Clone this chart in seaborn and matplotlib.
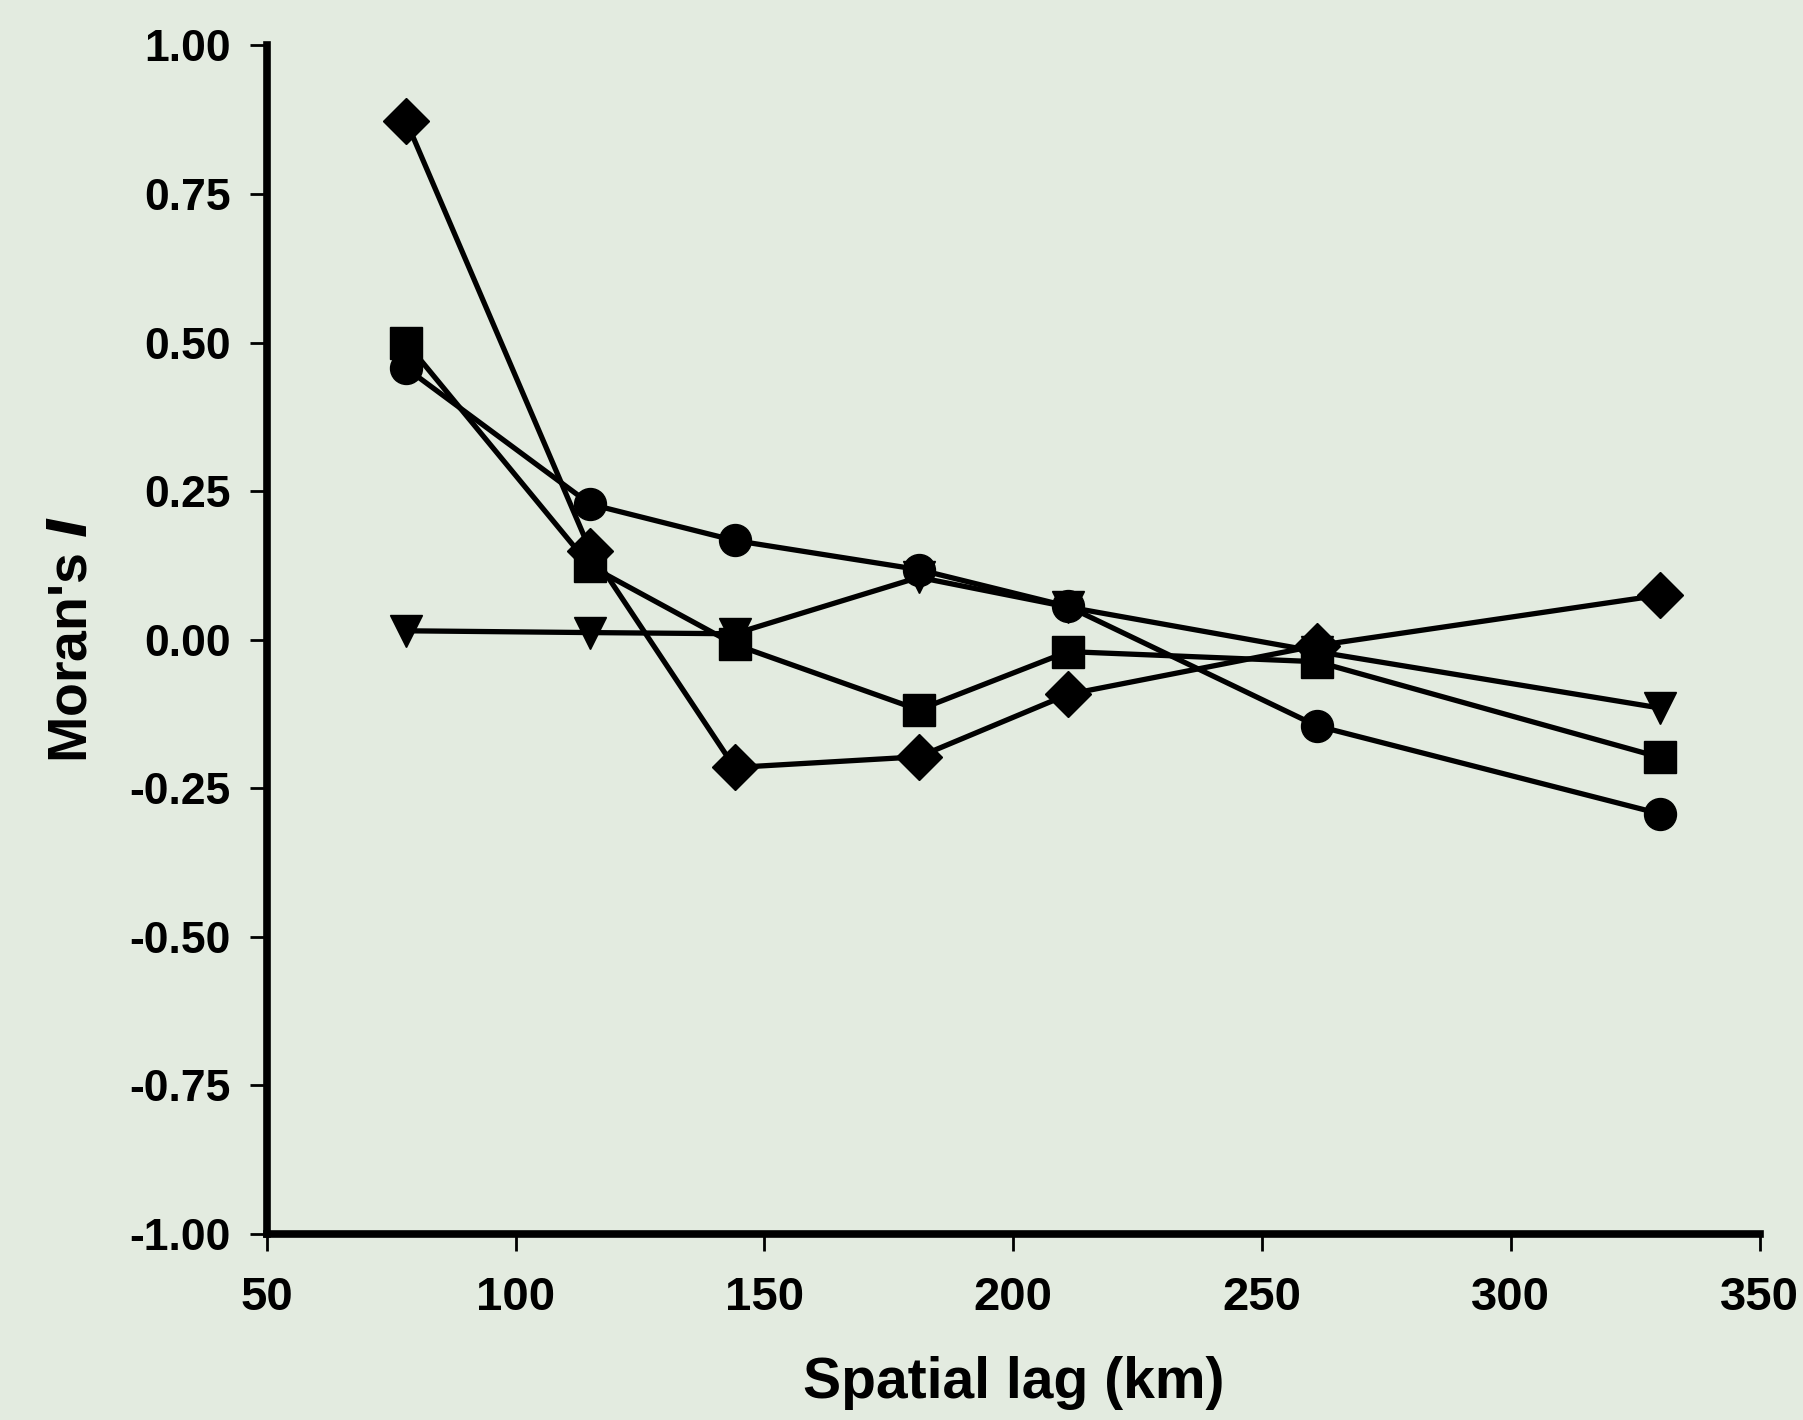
import numpy as np
import pandas as pd
import matplotlib
matplotlib.use("Agg")
import matplotlib.pyplot as plt
import seaborn as sns

# spatial lag classes (km)
lag_km = [78, 115, 144, 181, 211, 261, 330]

# Moran's I per series
diamond  = [0.873, 0.150, -0.215, -0.197, -0.092, -0.010, 0.075]
square   = [0.500, 0.124, -0.008, -0.118, -0.020, -0.037, -0.198]
circle   = [0.457, 0.228, 0.167, 0.118, 0.056, -0.145, -0.293]
triangle = [0.015, 0.012, 0.010, 0.105, 0.055, -0.020, -0.115]

y_ticks = [-1.00, -0.75, -0.50, -0.25, 0.00, 0.25, 0.50, 0.75, 1.00]
x_ticks = [50, 100, 150, 200, 250, 300, 350]

BG = "#e3ebe0"

sns.set_style("ticks")
plt.rcParams["font.family"] = ["Liberation Sans", "DejaVu Sans"]
plt.rcParams["font.weight"] = "bold"
plt.rcParams["text.color"] = "black"
plt.rcParams["axes.labelcolor"] = "black"
plt.rcParams["xtick.color"] = "black"
plt.rcParams["ytick.color"] = "black"

df = pd.concat([
    pd.DataFrame({"lag": lag_km, "I": diamond,  "series": "diamond"}),
    pd.DataFrame({"lag": lag_km, "I": square,   "series": "square"}),
    pd.DataFrame({"lag": lag_km, "I": circle,   "series": "circle"}),
    pd.DataFrame({"lag": lag_km, "I": triangle, "series": "triangle"}),
], ignore_index=True)

fig = plt.figure(figsize=(18.03, 14.2), dpi=100, facecolor=BG)
ax = fig.add_axes([0.148, 0.131, 0.828, 0.837])
ax.set_facecolor(BG)

sns.lineplot(
    data=df, x="lag", y="I", style="series",
    markers={"diamond": "D", "square": "s", "circle": "o", "triangle": "v"},
    dashes=False, color="black", linewidth=3.8, markersize=23,
    markeredgecolor="black", markeredgewidth=1, errorbar=None,
    legend=False, ax=ax,
)

ax.set_xlim(50, 350)
ax.set_ylim(-1.0, 1.0)
ax.set_xticks(x_ticks)
ax.set_yticks(y_ticks)
ax.set_yticklabels([f"{v:.2f}" for v in y_ticks])

for side in ["top", "right"]:
    ax.spines[side].set_visible(False)
for side in ["left", "bottom"]:
    ax.spines[side].set_linewidth(5.5)
    ax.spines[side].set_color("black")

ax.tick_params(axis="y", direction="out", length=12, width=2, pad=14, labelsize=32)
ax.tick_params(axis="x", direction="out", length=12, width=2, pad=18, labelsize=34)
for lab in ax.get_xticklabels() + ax.get_yticklabels():
    lab.set_fontweight("bold")

ax.set_xlabel("Spatial lag (km)", fontsize=41, fontweight="bold", labelpad=26)
ax.set_ylabel("Moran's $\\mathbfit{I}$", fontsize=40, fontweight="bold", labelpad=22)

fig.savefig("out.png", dpi=100, facecolor=BG)
